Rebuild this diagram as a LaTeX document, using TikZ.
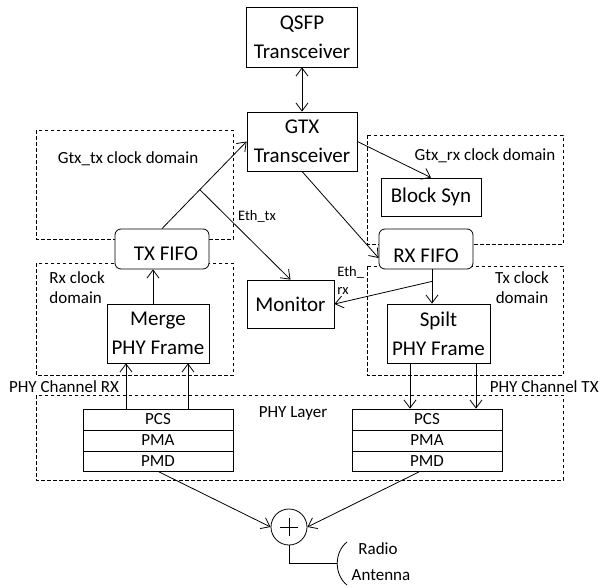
\documentclass[tikz,border=0pt]{standalone}
\usepackage{fontspec}
\setmainfont{Carlito}
\usetikzlibrary{arrows.meta,calc}
\begin{document}
\begin{tikzpicture}[x=1pt,y=-1pt,
  line width=0.8pt,
  blockbox/.style={draw, inner sep=0pt, align=center, font=\fontsize{21}{29}\selectfont},
  fifobox/.style={draw, fill=white, rounded corners=6pt, inner sep=0pt, minimum width=94pt, minimum height=40pt},
  stackbox/.style={draw, inner sep=0pt, minimum width=150pt, font=\fontsize{17}{18}\selectfont},
  clkdom/.style={draw, dash pattern=on 3.5pt off 2.5pt, line width=0.7pt},
  lbl/.style={inner sep=0pt, font=\fontsize{17}{20}\selectfont},
  sml/.style={inner sep=0pt, font=\fontsize{14.5}{18}\selectfont},
  arr/.style={-{Straight Barb[length=8pt,width=12pt]}},
  darr/.style={{Straight Barb[length=8pt,width=12pt]}-{Straight Barb[length=8pt,width=12pt]}}
]
\useasboundingbox (0,0) rectangle (600,587);

% dashed clock domains
\draw[clkdom] (36,130) rectangle (233,239);
\draw[clkdom] (36,263) rectangle (233,375);
\draw[clkdom] (367,135) rectangle (563,244);
\draw[clkdom] (367,266) rectangle (563,375);
\draw[clkdom] (36,395) rectangle (563,480);

% domain labels
\node[lbl] (ltx) at (128,159) {Gtx\_tx clock domain};
\node[lbl] (lrx) at (485,156) {Gtx\_rx clock domain};
\node[lbl, align=left, anchor=west] (lrxd) at (49,288) {Rx clock\\domain};
\node[lbl, align=center] (ltxd) at (522,288) {Tx clock\\domain};
\node[lbl] (lphy) at (293,413) {PHY Layer};
\node[lbl] (lchrx) at (64,387) {PHY Channel RX};
\node[lbl, anchor=east] (lchtx) at (599,387) {PHY Channel TX};

% boxes
\node[blockbox, minimum width=111pt, minimum height=60pt] (qsfp) at (302,37) {QSFP\\Transceiver};
\node[blockbox, minimum width=110pt, minimum height=59pt] (gtx) at (302,141.5) {GTX\\Transceiver};
\node[blockbox, minimum width=100pt, minimum height=38pt] (blk) at (431,197) {Block Syn};
\node[blockbox, minimum width=87pt, minimum height=48pt] (mon) at (290.5,304) {Monitor};
\node[blockbox, minimum width=102pt, minimum height=59pt] (merge) at (158,333.5) {Merge\\PHY Frame};
\node[blockbox, minimum width=103pt, minimum height=59pt] (spilt) at (438.5,333.5) {Spilt\\PHY Frame};
\node[fifobox, label={[xshift=4pt,yshift=-5pt,font=\fontsize{21}{25}\selectfont]center:TX FIFO}] (txf) at (162,249) {};
\node[fifobox, label={[xshift=0pt,yshift=-7pt,font=\fontsize{21}{25}\selectfont]center:RX FIFO}] (rxf) at (426,249) {};

% PHY layer stacks
\node[stackbox, minimum height=21pt] (lpcs) at (158,419.5) {PCS};
\node[stackbox, minimum height=21pt] (lpma) at (158,440.5) {PMA};
\node[stackbox, minimum height=20pt] (lpmd) at (158,461) {PMD};
\node[stackbox, minimum height=21pt] (rpcs) at (427,419.5) {PCS};
\node[stackbox, minimum height=21pt] (rpma) at (427,440.5) {PMA};
\node[stackbox, minimum height=20pt] (rpmd) at (427,461) {PMD};

% combiner and antenna
\node[draw, circle, minimum size=36pt, inner sep=0pt] (sum) at (289,527) {};
\draw ([xshift=-9pt]sum.center) -- ([xshift=9pt]sum.center);
\draw ([yshift=-9pt]sum.center) -- ([yshift=9pt]sum.center);
\coordinate (ant) at (337,563);
\draw (347,542) .. controls (334,552) and (334,575) .. (347,585);
\draw (sum.south) |- (ant);
\node[lbl] (radio) at (378,549) {Radio};
\node[lbl] (antenna) at (381,575) {Antenna};

% connectors
\draw[darr] (qsfp.south) -- (gtx.north);
\draw[arr] (txf.north) -- (gtx.west);
\coordinate (j1) at ($(txf.north)!0.447!(gtx.west)$);
\draw[arr] (j1) -- (mon.north);
\node[sml] (ethtx) at (257,216) {Eth\_tx};
\draw[arr] (gtx.east) -- (blk.north);
\draw[arr] (gtx.south) -- ([yshift=-9pt]rxf.west);
\coordinate (rs) at ([xshift=6pt]rxf.south);
\draw[arr] (rs) -- (rs |- spilt.north);
\coordinate (j2) at ([yshift=-12pt]rs);
\draw[arr] (j2) -- (mon.east);
\node[sml, align=left, anchor=west] (ethrx) at (337,280) {Eth\_\\rx};
\coordinate (ms) at ([xshift=-5pt]merge.north);
\draw[arr] (ms) -- (ms |- txf.south);

\draw[arr] (126,0 |- lpcs.north) -- (126,0 |- merge.south);
\draw[arr] (188,0 |- lpcs.north) -- (188,0 |- merge.south);
\draw[arr] (410,0 |- spilt.south) -- (410,0 |- rpcs.north);
\draw[arr] (476,0 |- spilt.south) -- (476,0 |- rpcs.north);

\draw[arr] (lpmd.south) -- (sum.west);
\draw[arr] ([xshift=-7pt]rpmd.south) -- (sum.east);
\end{tikzpicture}
\end{document}
